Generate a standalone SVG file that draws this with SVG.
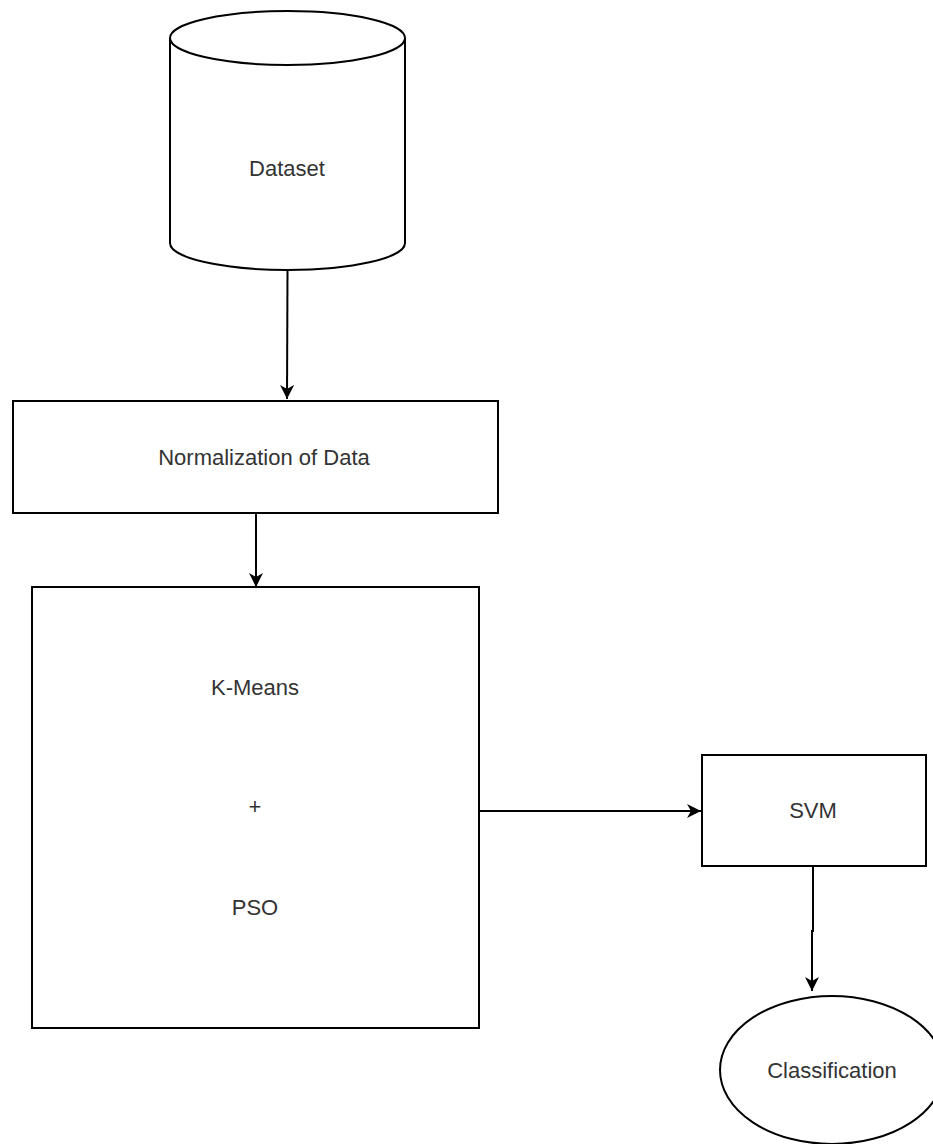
<svg xmlns="http://www.w3.org/2000/svg" width="933" height="1144" viewBox="0 0 933 1144">
  <defs>
    <style>
      .shape { fill: #ffffff; stroke: #000000; stroke-width: 2; }
      .conn { fill: none; stroke: #000000; stroke-width: 2; }
      .label { font-family: "Liberation Sans", Arial, sans-serif; font-size: 22px; fill: #333333; text-anchor: middle; dominant-baseline: central; }
    </style>
    <marker id="arrow" markerUnits="userSpaceOnUse" markerWidth="16" markerHeight="16" refX="14" refY="7" orient="auto">
      <path d="M0,0 L14,7 L0,14 L4,7 Z" fill="#000000"/>
    </marker>
  </defs>
  <rect width="933" height="1144" fill="#ffffff"/>

  <g id="dataset">
    <path class="shape" d="M170,38 A117.5,27 0 0 1 405,38 L405,243 A117.5,27 0 0 1 170,243 Z"/>
    <path class="shape" style="fill:none" d="M170,38 A117.5,27 0 0 0 405,38"/>
    <text class="label" x="287" y="168">Dataset</text>
  </g>

  <g id="normalization">
    <rect class="shape" x="13" y="401" width="485" height="112"/>
    <text class="label" x="264" y="457">Normalization of Data</text>
  </g>

  <g id="kmeans-pso">
    <rect class="shape" x="32" y="587" width="447" height="441"/>
    <text class="label" x="255" y="687">K-Means</text>
    <text class="label" x="255" y="806">+</text>
    <text class="label" x="255" y="907">PSO</text>
  </g>

  <g id="svm">
    <rect class="shape" x="702" y="755" width="224" height="111"/>
    <text class="label" x="813" y="810">SVM</text>
  </g>

  <g id="classification">
    <ellipse class="shape" cx="832" cy="1070" rx="112" ry="74"/>
    <text class="label" x="832" y="1070">Classification</text>
  </g>

  <g id="connectors">
    <path class="conn" d="M287.5,271 L287,399" marker-end="url(#arrow)"/>
    <path class="conn" d="M256,513 L256,587" marker-end="url(#arrow)"/>
    <path class="conn" d="M479,811 L701,811" marker-end="url(#arrow)"/>
    <path class="conn" d="M813,866 L813,931 L812,931 L812,991" marker-end="url(#arrow)"/>
  </g>
</svg>
